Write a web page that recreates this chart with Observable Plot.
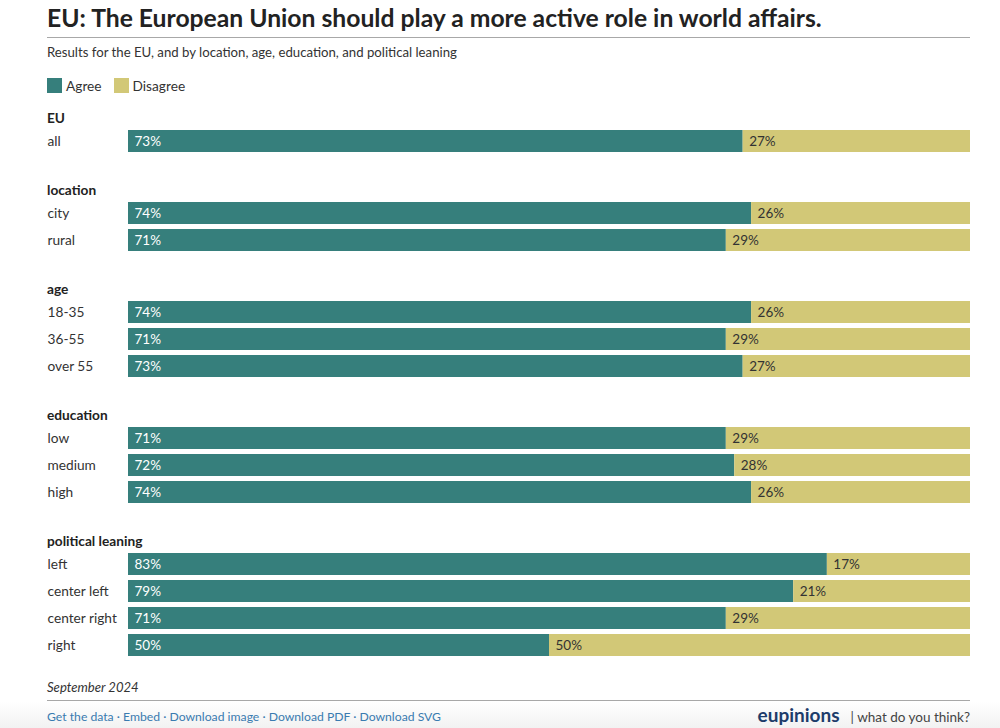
<!DOCTYPE html>
<html>
<head>
<meta charset="utf-8">
<script src="https://cdn.jsdelivr.net/npm/d3@7"></script>
<script src="https://cdn.jsdelivr.net/npm/@observablehq/plot@0.6"></script>
<style>
  html, body { margin: 0; padding: 0; background: #fff; }
  body { width: 1000px; height: 728px; position: relative; overflow: hidden; font-family: Lato, "Noto Sans", sans-serif; color: #333; }
  .abs { position: absolute; }
  #title { left: 47px; top: 3px; font-size: 24.7px; font-weight: 700; color: #222; line-height: 1.2; white-space: nowrap; }
  .rule { left: 47px; width: 923px; height: 0; border-top: 1.5px solid #a8a8a8; }
  #subtitle { left: 47px; top: 45px; font-size: 13.2px; line-height: 1.2; color: #333; }
  #legend { left: 47px; top: 77px; font-size: 13.7px; line-height: 17px; display: flex; align-items: center; }
  #legend .sw { width: 15px; height: 15px; display: inline-block; margin-right: 4px; }
  #legend .item { display: flex; align-items: center; margin-right: 12px; }
  #chart { left: 0; top: 107px; width: 1000px; }
  .ghead { padding-left: 47px; font-size: 13.7px; font-weight: 700; line-height: 21px; height: 21px; color: #222; }
  .group { margin-bottom: 24px; }
  .group svg { display: block; }
  #date { left: 47px; top: 680px; font-size: 13.1px; font-style: italic; line-height: 1.2; color: #333; }
  #footer { left: 0; top: 701px; width: 1000px; height: 27px; background: linear-gradient(#ffffff, #f2f2f2); }
  #links { left: 47px; top: 710px; font-size: 12.2px; line-height: 1.2; color: #3a7bb0; }
  #brand { right: 30px; top: 703px; line-height: 24px; white-space: nowrap; }
  #brand b { font-size: 19px; color: #1d3c6a; font-weight: 700; }
  #brand span { font-size: 13.5px; color: #444; }
</style>
</head>
<body>
<div id="title" class="abs">EU: The European Union should play a more active role in world affairs.</div>
<div class="abs rule" style="top:37px"></div>
<div id="subtitle" class="abs">Results for the EU, and by location, age, education, and political leaning</div>
<div id="legend" class="abs"></div>
<div id="chart" class="abs"></div>
<div id="date" class="abs">September 2024</div>
<div id="footer" class="abs"></div>
<div class="abs rule" style="top:700px"></div>
<div id="links" class="abs">Get the data · Embed · Download image · Download PDF · Download SVG</div>
<div id="brand" class="abs"><b>eupinions</b> <span>&nbsp;&nbsp;| what do you think?</span></div>
<script>
// ---- data ----
const responses = ["Agree", "Disagree"];
const colors = ["#367f7c", "#d2c877"];
const groups = ["EU", "location", "age", "education", "political leaning"];
const groupOf = ["EU", "location", "location", "age", "age", "age", "education", "education", "education", "political leaning", "political leaning", "political leaning", "political leaning"];
const categories = ["all", "city", "rural", "18-35", "36-55", "over 55", "low", "medium", "high", "left", "center left", "center right", "right"];
const agree = [73, 74, 71, 74, 71, 73, 71, 72, 74, 83, 79, 71, 50];
const disagree = [27, 26, 29, 26, 29, 27, 29, 28, 26, 17, 21, 29, 50];

// ---- legend ----
const legend = document.getElementById("legend");
responses.forEach((r, i) => {
  const it = document.createElement("div");
  it.className = "item";
  it.innerHTML = `<span class="sw" style="background:${colors[i]}"></span>${r}`;
  legend.appendChild(it);
});

// ---- chart ----
const chart = document.getElementById("chart");
const rowStep = 27;
groups.forEach(g => {
  const idx = categories.map((c, i) => i).filter(i => groupOf[i] === g);
  const labels = idx.map(i => categories[i]);
  const rows = idx.flatMap(i => [
    {label: categories[i], response: "Agree", value: agree[i], agree: agree[i]},
    {label: categories[i], response: "Disagree", value: disagree[i], agree: agree[i]}
  ]);
  const div = document.createElement("div");
  div.className = "group";
  const head = document.createElement("div");
  head.className = "ghead";
  head.textContent = g;
  div.appendChild(head);
  const plot = Plot.plot({
    width: 1000,
    height: labels.length * rowStep,
    marginLeft: 128,
    marginRight: 30,
    marginTop: 0,
    marginBottom: 0,
    style: {fontFamily: "Lato, 'Noto Sans', sans-serif", fontSize: "13.5px", color: "#333", background: "transparent"},
    x: {domain: [0, 100], axis: null},
    y: {domain: labels, axis: null, paddingInner: 0.185, paddingOuter: 0.0925},
    color: {domain: responses, range: colors},
    marks: [
      Plot.barX(rows, {x: "value", y: "label", fill: "response"}),
      Plot.text(rows.filter(d => d.response === "Agree"), {
        x: 0, y: "label", text: d => d.value + "%", dx: 6, textAnchor: "start", fill: "white", fontSize: 13.5
      }),
      Plot.text(rows.filter(d => d.response === "Disagree"), {
        x: "agree", y: "label", text: d => d.value + "%", dx: 6, textAnchor: "start", fill: "#333", fontSize: 13.5
      }),
      Plot.text(labels, {
        y: d => d, text: d => d, frameAnchor: "left", dx: -81, textAnchor: "start", fill: "#333", fontSize: 13.7
      })
    ]
  });
  div.appendChild(plot);
  chart.appendChild(div);
});
</script>
</body>
</html>
